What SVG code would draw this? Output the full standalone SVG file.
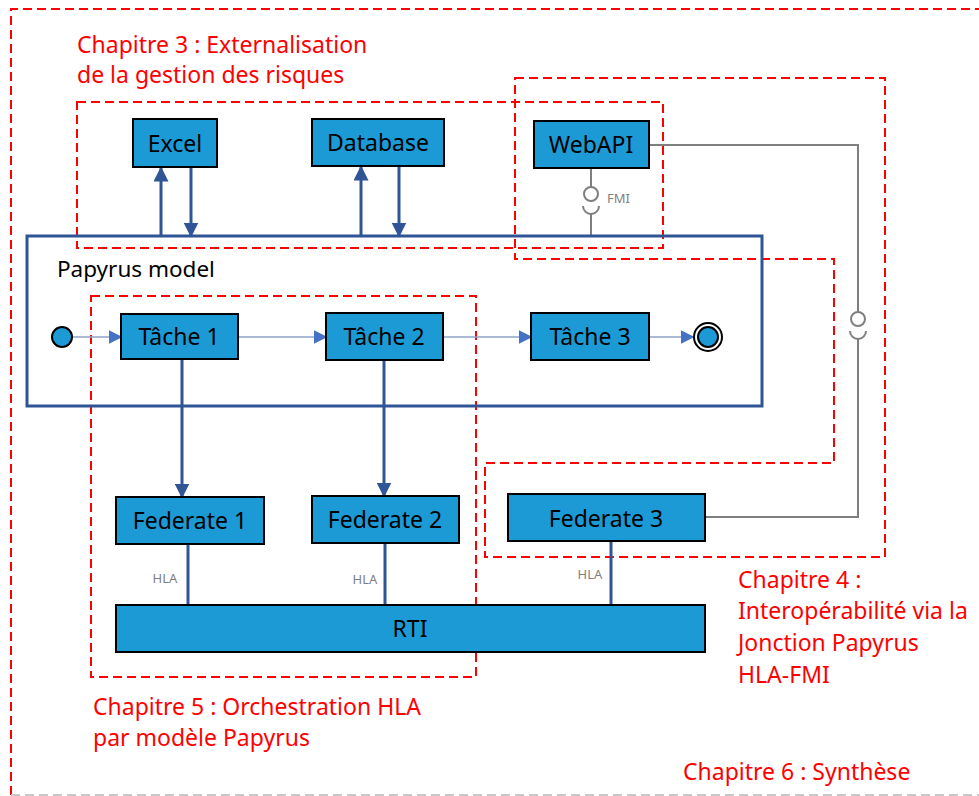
<svg xmlns="http://www.w3.org/2000/svg" width="979" height="796" viewBox="0 0 979 796">
<defs>
<style>
.red{fill:none;stroke:#FF0000;stroke-width:2;stroke-dasharray:9,5}
.box{fill:#1B9AD6;stroke:#000;stroke-width:2}
.lbl{font-family:"Noto Sans","Open Sans",sans-serif;font-size:23px;fill:#000;text-anchor:middle}
.chap{font-family:"Noto Sans","Open Sans",sans-serif;font-size:23px;fill:#FF0000}
.small{font-family:"Noto Sans","Open Sans",sans-serif;font-size:13px;fill:#7F7F7F}
.blue{fill:none;stroke:#2F5597;stroke-width:3}
.thin{fill:none;stroke:#8EA3C6;stroke-width:1.5}
.grey{fill:none;stroke:#7F7F7F;stroke-width:2}
</style>
<marker id="ab" viewBox="0 0 10 10" refX="9" refY="5" markerWidth="5" markerHeight="5" orient="auto-start-reverse" markerUnits="strokeWidth"><path d="M0,0L10,5L0,10z" fill="#2F5597"/></marker>
<marker id="at" viewBox="0 0 10 10" refX="9" refY="5" markerWidth="9" markerHeight="9" orient="auto" markerUnits="strokeWidth"><path d="M0,0L10,5L0,10z" fill="#4472C4"/></marker>
</defs>
<rect width="979" height="796" fill="#fff"/>

<g id="chapters">
<path class="red" d="M11,795V9H979"/>
<line x1="11" y1="795" x2="979" y2="795" stroke="#C8C8C8" stroke-width="2" stroke-dasharray="9,5"/>
<rect class="red" x="77" y="102" width="586" height="146"/>
<path class="red" d="M515,78H885V557H485V463H834V259H515Z"/>
<rect class="red" x="91" y="296" width="385" height="381"/>
<text class="chap" x="77" y="53">Chapitre 3 : Externalisation</text>
<text class="chap" x="77" y="83">de la gestion des risques</text>
<text class="chap" x="738" y="588">Chapitre 4 :</text>
<text class="chap" x="738" y="619">Interopérabilité via la</text>
<text class="chap" x="738" y="651">Jonction Papyrus</text>
<text class="chap" x="738" y="683">HLA-FMI</text>
<text class="chap" x="93" y="715">Chapitre 5 : Orchestration HLA</text>
<text class="chap" x="93" y="746">par modèle Papyrus</text>
<text class="chap" x="683" y="780">Chapitre 6 : Synthèse</text>
</g>

<g id="connectors">
<line class="blue" x1="161" y1="236" x2="161" y2="168" marker-end="url(#ab)"/>
<line class="blue" x1="191" y1="168" x2="191" y2="236" marker-end="url(#ab)"/>
<line class="blue" x1="361" y1="236" x2="361" y2="167" marker-end="url(#ab)"/>
<line class="blue" x1="399" y1="167" x2="399" y2="236" marker-end="url(#ab)"/>
<line class="grey" x1="591" y1="168" x2="591" y2="187"/>
<circle cx="591" cy="194" r="7" fill="#fff" stroke="#7F7F7F" stroke-width="2"/>
<path class="grey" d="M583,206A8,8 0 0 0 599,206"/>
<line class="grey" x1="591" y1="214" x2="591" y2="236"/>
<text class="small" x="607" y="203">FMI</text>
<path class="grey" d="M649,145H858V312"/>
<circle cx="858" cy="319" r="7" fill="#fff" stroke="#7F7F7F" stroke-width="2"/>
<path class="grey" d="M850,331A8,8 0 0 0 866,331"/>
<path class="grey" d="M858,339V517H705"/>
<line class="thin" x1="73" y1="337" x2="121" y2="337" marker-end="url(#at)"/>
<line class="thin" x1="238" y1="337" x2="326" y2="337" marker-end="url(#at)"/>
<line class="thin" x1="443" y1="337" x2="531" y2="337" marker-end="url(#at)"/>
<line class="thin" x1="649" y1="337" x2="693" y2="337" marker-end="url(#at)"/>
<line class="blue" x1="182" y1="359" x2="182" y2="497" marker-end="url(#ab)"/>
<line class="blue" x1="384" y1="360" x2="384" y2="496" marker-end="url(#ab)"/>
<line class="blue" x1="188" y1="544" x2="188" y2="605"/>
<line class="blue" x1="385" y1="543" x2="385" y2="605"/>
<line class="blue" x1="611" y1="541" x2="611" y2="605"/>
<text class="small" x="165" y="583" text-anchor="middle">HLA</text>
<text class="small" x="365" y="584" text-anchor="middle">HLA</text>
<text class="small" x="590" y="579" text-anchor="middle">HLA</text>
</g>

<g id="papyrus">
<rect x="27" y="236" width="735" height="170" fill="none" stroke="#2F5597" stroke-width="3"/>
<text x="57" y="277" font-family="Noto Sans,Open Sans,sans-serif" font-size="22.5" fill="#000">Papyrus model</text>
</g>
<g id="excel"><rect class="box" x="133" y="119" width="84" height="48"/><text class="lbl" x="175" y="152">Excel</text></g>
<g id="database"><rect class="box" x="312" y="119" width="132" height="47"/><text class="lbl" x="378" y="151">Database</text></g>
<g id="webapi"><rect class="box" x="534" y="121" width="115" height="47"/><text class="lbl" x="591" y="153">WebAPI</text></g>
<g id="start"><circle cx="62" cy="337" r="10" fill="#1B9AD6" stroke="#000" stroke-width="2"/></g>
<g id="tache1"><rect class="box" x="121" y="314" width="117" height="45"/><text class="lbl" x="179" y="345">Tâche 1</text></g>
<g id="tache2"><rect class="box" x="326" y="313" width="117" height="47"/><text class="lbl" x="384" y="345">Tâche 2</text></g>
<g id="tache3"><rect class="box" x="531" y="313" width="118" height="47"/><text class="lbl" x="590" y="345">Tâche 3</text></g>
<g id="end"><circle cx="708" cy="337" r="14" fill="#fff" stroke="#000" stroke-width="2"/><circle cx="708" cy="337" r="10" fill="#1B9AD6" stroke="#000" stroke-width="2"/></g>
<g id="federate1"><rect class="box" x="116" y="497" width="148" height="47"/><text class="lbl" x="190" y="529">Federate 1</text></g>
<g id="federate2"><rect class="box" x="312" y="496" width="147" height="47"/><text class="lbl" x="385" y="528">Federate 2</text></g>
<g id="federate3"><rect class="box" x="508" y="494" width="197" height="47"/><text class="lbl" x="606" y="527">Federate 3</text></g>
<g id="rti"><rect class="box" x="116" y="605" width="589" height="47"/><text class="lbl" x="410" y="637">RTI</text></g>
</svg>
